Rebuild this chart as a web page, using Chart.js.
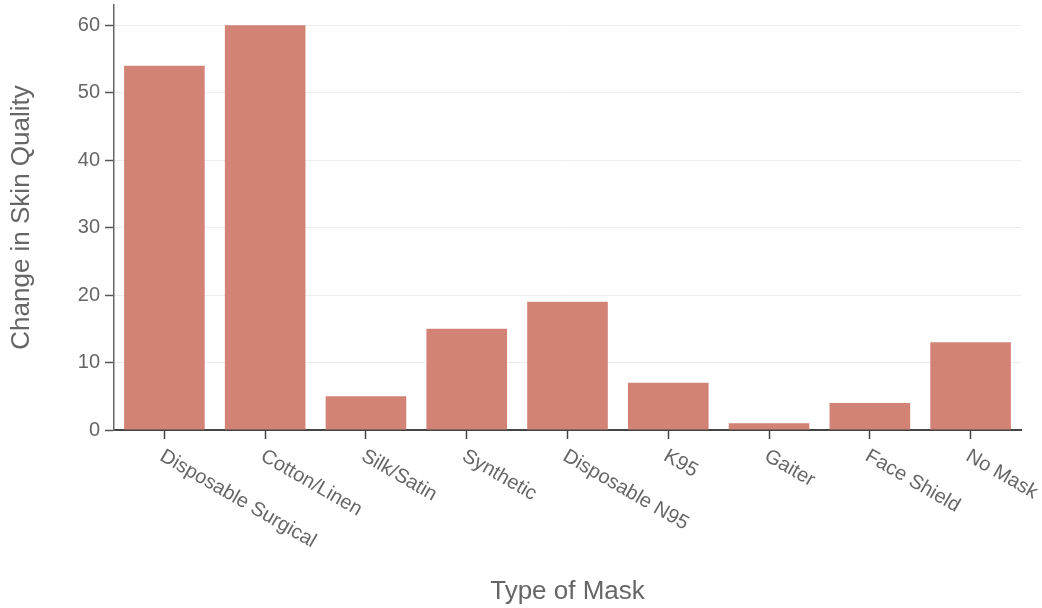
<!DOCTYPE html>
<html>
<head>
<meta charset="utf-8">
<script src="https://cdn.jsdelivr.net/npm/chart.js@4.4.1/dist/chart.umd.min.js"></script>
<style>
  html, body { margin: 0; padding: 0; background: #fff; }
  #wrap { width: 1042px; height: 608px; }
</style>
</head>
<body>
<div id="wrap"><canvas id="myChart" width="1042" height="608"></canvas></div>
<script>
// Data
const maskTypes = ["Disposable Surgical", "Cotton/Linen", "Silk/Satin", "Synthetic",
    "Disposable N95", "K95", "Gaiter", "Face Shield", "No Mask"];
const skinChange = [54, 60, 5, 15, 19, 7, 1, 4, 13];
const yTicks = [0, 10, 20, 30, 40, 50, 60];

const FONT = "'Liberation Sans', Arial, Helvetica, sans-serif";
const TEXT_COLOR = '#666';

// x labels are rotated clockwise and start at the tick, which Chart.js can't do itself
const slantedLabels = {
    id: 'slantedLabels',
    afterDraw(chart) {
        const x = chart.scales.x;
        const ctx = chart.ctx;
        ctx.save();
        ctx.font = '20px ' + FONT;
        ctx.fillStyle = TEXT_COLOR;
        ctx.textAlign = 'left';
        ctx.textBaseline = 'top';
        x.ticks.forEach((t, i) => {
            const px = x.getPixelForTick(i);
            ctx.save();
            ctx.translate(px + 2, x.top + 16);
            ctx.rotate(Math.PI / 6);
            ctx.fillText(maskTypes[i], 0, 0);
            ctx.restore();
        });
        ctx.restore();
    }
};

new Chart(document.getElementById('myChart').getContext('2d'), {
    type: 'bar',
    data: {
        labels: maskTypes,
        datasets: [{
            label: 'Change in Skin Quality',
            data: skinChange,
            backgroundColor: '#d38376',
            borderWidth: 0,
            barPercentage: 0.8,
            categoryPercentage: 1.0
        }]
    },
    options: {
        responsive: false,
        animation: false,
        layout: { padding: { top: 5, right: 21, left: 0, bottom: 0 } },
        plugins: { legend: { display: false }, tooltip: { enabled: false } },
        scales: {
            x: {
                grid: { display: true, drawOnChartArea: false, offset: false, tickLength: 9, tickColor: '#444', tickWidth: 1.5 },
                border: { color: '#444', width: 2 },
                ticks: { display: false },
                title: { display: true, text: 'Type of Mask', color: TEXT_COLOR, font: { family: FONT, size: 26 }, padding: { top: 0, bottom: 1 } },
                afterFit(scale) { scale.height = 178; scale.paddingLeft = 0; scale.paddingRight = 0; }
            },
            y: {
                min: 0,
                max: 63,
                afterBuildTicks(scale) { scale.ticks = yTicks.map(v => ({ value: v })); },
                grid: { color: '#ececec', tickColor: '#555', tickLength: 9, tickWidth: 1.5 },
                border: { color: '#666', width: 1.5 },
                ticks: { color: TEXT_COLOR, font: { family: FONT, size: 20 }, padding: 5 },
                title: { display: true, text: 'Change in Skin Quality', color: TEXT_COLOR, font: { family: FONT, size: 26 }, padding: { top: 6, bottom: 0 } },
                afterFit(scale) { scale.width = 114; scale.paddingTop = 0; scale.paddingBottom = 0; }
            }
        }
    },
    plugins: [slantedLabels]
});
</script>
</body>
</html>
